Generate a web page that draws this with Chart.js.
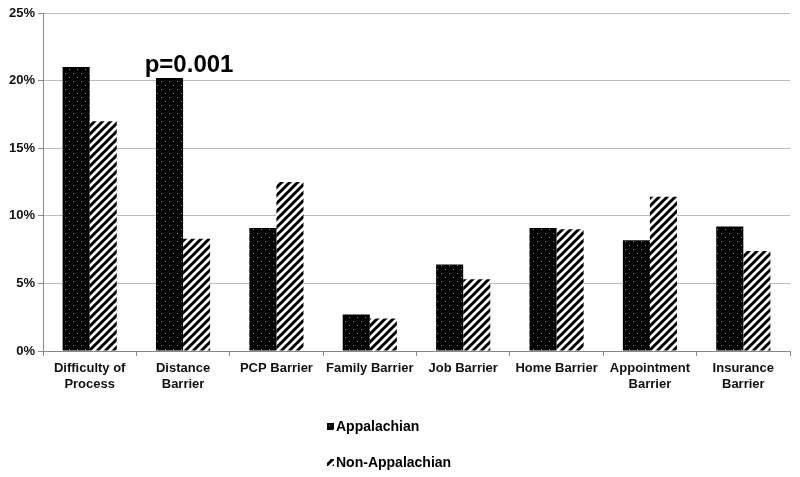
<!DOCTYPE html>
<html>
<head>
<meta charset="utf-8">
<script src="https://cdn.jsdelivr.net/npm/chart.js@4/dist/chart.umd.min.js"></script>
<style>
  html, body { margin: 0; padding: 0; background: #fff; }
  #wrap { width: 800px; height: 477px; }
</style>
</head>
<body>
<div id="wrap"><canvas id="barrierChart"></canvas></div>
<script>
// data
const categories = [
    ["Difficulty of", "Process"],
    ["Distance", "Barrier"],
    "PCP Barrier",
    "Family Barrier",
    "Job Barrier",
    "Home Barrier",
    ["Appointment", "Barrier"],
    ["Insurance", "Barrier"]
];
const appalachian = [21.0, 20.2, 9.1, 2.7, 6.4, 9.1, 8.2, 9.2];
const nonAppalachian = [17.0, 8.3, 12.5, 2.4, 5.3, 9.0, 11.4, 7.4];
const yTicks = [0, 5, 10, 15, 20, 25];
const pNote = { index: 1, text: "p=0.001" };

const FONT = "'Liberation Sans', Arial, sans-serif";

// black with white dots
function dotPattern() {
    const c = document.createElement("canvas");
    c.width = 8; c.height = 8;
    const g = c.getContext("2d");
    g.fillStyle = "#000";
    g.fillRect(0, 0, 8, 8);
    g.fillStyle = "#8a8a8a";
    g.fillRect(1, 1, 1, 1);
    g.fillRect(5, 5, 1, 1);
    return g.createPattern(c, "repeat");
}

// white with black diagonal stripes
function stripePattern() {
    const s = 8;
    const c = document.createElement("canvas");
    c.width = s; c.height = s;
    const g = c.getContext("2d");
    g.fillStyle = "#fff";
    g.fillRect(0, 0, s, s);
    g.strokeStyle = "#000";
    g.lineWidth = 3;
    g.beginPath();
    for (let k = -1; k <= 1; k++) {
        g.moveTo(k * s - 1, s + 1);
        g.lineTo(k * s + s + 1, -1);
    }
    g.stroke();
    return g.createPattern(c, "repeat");
}

const fills = [dotPattern(), stripePattern()];

const extras = {
    id: "extras",
    afterDraw(chart) {
        const ctx = chart.ctx;
        const x = chart.scales.x, y = chart.scales.y;
        ctx.save();
        // p-value note
        ctx.fillStyle = "#000";
        ctx.font = "bold 24px " + FONT;
        ctx.textAlign = "center";
        ctx.textBaseline = "alphabetic";
        ctx.fillText(pNote.text, x.getPixelForValue(pNote.index) + 6, y.getPixelForValue(appalachian[pNote.index]) - 6);

        // vertical legend under the axis
        ctx.font = "bold 14px " + FONT;
        ctx.textAlign = "left";
        ctx.textBaseline = "middle";
        chart.data.datasets.forEach((ds, i) => {
            const ly = 427 + i * 36;
            ctx.fillStyle = ds.backgroundColor;
            ctx.fillRect(327, ly - 4, 7, 7);
            ctx.fillStyle = "#000";
            ctx.fillText(ds.label, 336, ly);
        });
        ctx.restore();
    }
};

new Chart(document.getElementById("barrierChart"), {
    type: "bar",
    data: {
        labels: categories,
        datasets: [
            { label: "Appalachian", data: appalachian, backgroundColor: fills[0], borderWidth: 0 },
            { label: "Non-Appalachian", data: nonAppalachian, backgroundColor: fills[1], borderWidth: 0 }
        ]
    },
    options: {
        responsive: true,
        maintainAspectRatio: false,
        animation: false,
        datasets: { bar: { categoryPercentage: 0.58, barPercentage: 1.0 } },
        layout: { padding: { top: 13, right: 10, bottom: 0, left: 0 } },
        plugins: {
            legend: { display: false },
            tooltip: { enabled: false }
        },
        scales: {
            x: {
                grid: { drawOnChartArea: false, drawTicks: true, tickLength: 5, color: "#888" },
                border: { color: "#888" },
                ticks: { color: "#111", font: { family: FONT, size: 13, weight: "bold" }, padding: 5, maxRotation: 0, autoSkip: false },
                afterFit(scale) { scale.height = 126; }
            },
            y: {
                min: 0,
                max: 25,
                afterBuildTicks(scale) { scale.ticks = yTicks.map(v => ({ value: v })); },
                grid: { color: "#bcbcbc", tickLength: 5, tickColor: "#888" },
                border: { color: "#888" },
                ticks: {
                    color: "#111",
                    font: { family: FONT, size: 13, weight: "bold" },
                    padding: 3,
                    callback: v => v + "%"
                },
                afterFit(scale) { scale.width = 43; }
            }
        }
    },
    plugins: [extras]
});
</script>
</body>
</html>
